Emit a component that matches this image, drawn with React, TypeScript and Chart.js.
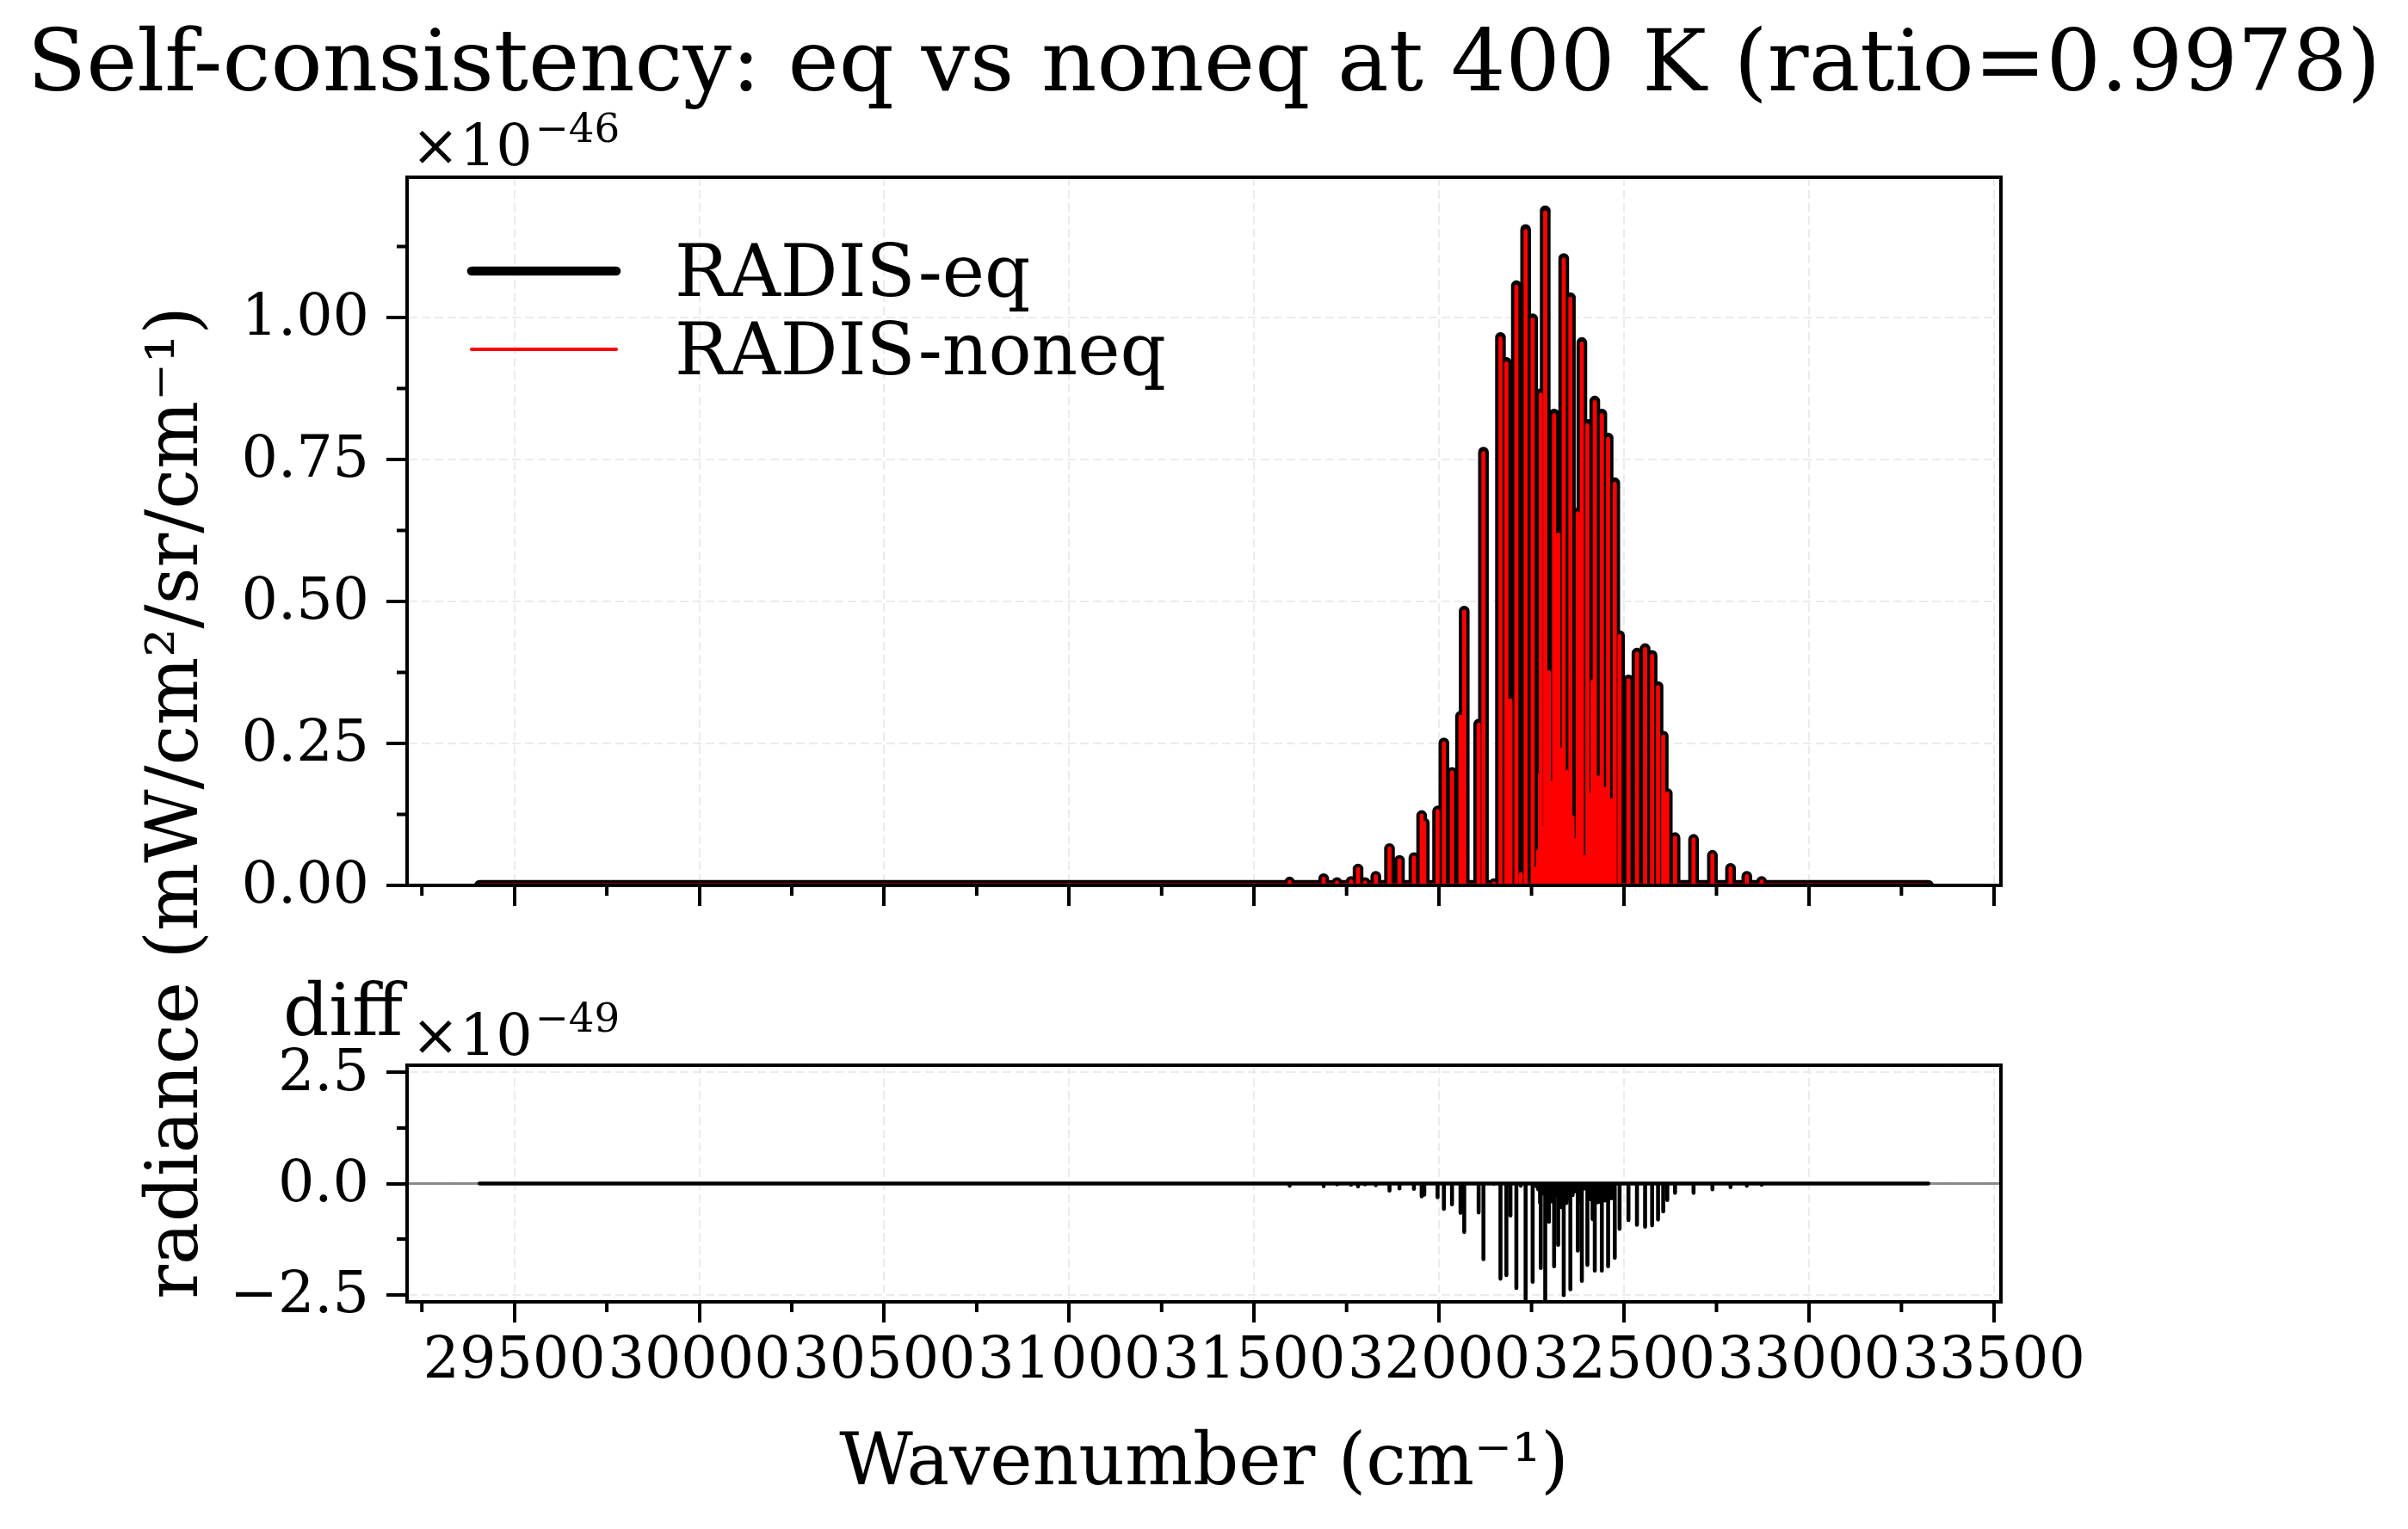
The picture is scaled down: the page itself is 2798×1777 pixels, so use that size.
import React, { useEffect, useRef } from "react";
import { Chart, registerables } from "chart.js";

Chart.register(...registerables);

const PAGE_W = 2798;
const PAGE_H = 1777;
const SERIF = '"DejaVu Serif", serif';

// Wavenumber axis (cm⁻¹)
const xAxisMin = 29210;
const xAxisMax = 33519;
const xMajorTicks = [29500, 30000, 30500, 31000, 31500, 32000, 32500, 33000, 33500];
const xMinorTicks = [29250, 29750, 30250, 30750, 31250, 31750, 32250, 32750, 33250];
const spectrumStart = 29406;
const spectrumEnd = 33323;

// Radiance panel (×1e-46 mW/cm²/sr/cm⁻¹)
const radianceMax = 1.247;
const radianceTicks = [0, 0.25, 0.5, 0.75, 1.0];
const radianceMinorTicks = [0.125, 0.375, 0.625, 0.875, 1.125];

// Difference panel (×1e-49)
const diffMin = -2.66;
const diffMax = 2.66;
const diffTicks = [-2.5, 0, 2.5];
const diffMinorTicks = [-1.25, 1.25];

// Line positions of the band (cm⁻¹)
const lineCenters = [
  31596, 31688, 31724, 31762, 31781, 31800, 31829, 31866, 31893, 31932,
  31953, 31960, 31996, 32013, 32035, 32058, 32068, 32107, 32120, 32148,
  32166, 32182, 32193, 32209, 32221, 32234, 32253, 32264, 32268, 32273,
  32275, 32281, 32287, 32292, 32297, 32304, 32311, 32317, 32322, 32330,
  32337, 32344, 32349, 32355, 32361, 32366, 32375, 32380, 32386, 32395,
  32401, 32409, 32415, 32421, 32430, 32440, 32448, 32457, 32466, 32475,
  32488, 32512, 32535, 32557, 32576, 32592, 32606, 32617, 32638, 32688,
  32739, 32788, 32832, 32872,
];

// Peak radiance, equilibrium run (×1e-46)
const eqRadiance = [
  0.006, 0.012, 0.005, 0.007, 0.029, 0.005, 0.016, 0.065, 0.044, 0.049,
  0.123, 0.110, 0.131, 0.251, 0.199, 0.298, 0.483, 0.284, 0.763, 0.003,
  0.965, 0.921, 0.327, 1.056, 0.020, 1.155, 0.998, 0.030, 0.060, 0.195,
  0.866, 0.100, 1.188, 0.140, 0.376, 0.180, 0.830, 0.120, 0.619, 0.240,
  1.104, 0.200, 0.150, 1.035, 0.120, 0.080, 0.656, 0.180, 0.956, 0.050,
  0.812, 0.160, 0.360, 0.853, 0.190, 0.830, 0.170, 0.788, 0.150, 0.709,
  0.440, 0.362, 0.409, 0.417, 0.405, 0.350, 0.263, 0.162, 0.084, 0.081,
  0.053, 0.030, 0.016, 0.007,
];

// Peak radiance, non-equilibrium run with Tvib = Trot (×1e-46)
const noneqRadiance = [
  0.006, 0.012, 0.005, 0.007, 0.029, 0.005, 0.016, 0.065, 0.044, 0.049,
  0.123, 0.110, 0.131, 0.250, 0.199, 0.297, 0.482, 0.283, 0.761, 0.003,
  0.963, 0.919, 0.326, 1.054, 0.020, 1.152, 0.996, 0.030, 0.060, 0.195,
  0.864, 0.100, 1.185, 0.140, 0.375, 0.180, 0.828, 0.120, 0.618, 0.239,
  1.102, 0.200, 0.150, 1.033, 0.120, 0.080, 0.655, 0.180, 0.954, 0.050,
  0.810, 0.160, 0.359, 0.851, 0.190, 0.828, 0.170, 0.786, 0.150, 0.707,
  0.439, 0.361, 0.408, 0.416, 0.404, 0.349, 0.262, 0.162, 0.084, 0.081,
  0.053, 0.030, 0.016, 0.007,
];

// noneq − eq (×1e-49)
const diffRadiance = [
  -0.05, -0.06, -0.02, -0.03, -0.065, -0.02, -0.04, -0.16, -0.11, -0.12,
  -0.29, -0.25, -0.31, -0.57, -0.47, -0.66, -1.09, -0.65, -1.70, -0.01,
  -2.14, -2.06, -0.72, -2.35, -0.05, -2.60, -2.21, -0.07, -0.13, -0.43,
  -1.90, -0.22, -2.66, -0.31, -0.86, -0.40, -1.86, -0.27, -1.38, -0.53,
  -2.51, -0.44, -0.33, -2.38, -0.26, -0.18, -1.51, -0.40, -2.19, -0.11,
  -1.83, -0.35, -0.80, -1.96, -0.42, -1.96, -0.38, -1.86, -0.33, -1.67,
  -1.02, -0.82, -0.93, -0.97, -0.94, -0.81, -0.63, -0.37, -0.21, -0.21,
  -0.13, -0.08, -0.05, -0.03,
];

type Pt = { x: number; y: number };

// Stick spectrum: baseline with one spike per line
function stickSpectrum(values: number[]): Pt[] {
  const order = lineCenters.map((_, i) => i).sort((a, b) => lineCenters[a] - lineCenters[b]);
  const pts: Pt[] = [{ x: spectrumStart, y: 0 }];
  for (const i of order) {
    const c = lineCenters[i];
    pts.push({ x: c, y: 0 }, { x: c, y: values[i] }, { x: c, y: 0 });
  }
  pts.push({ x: spectrumEnd, y: 0 });
  return pts;
}

const GRID_COLOR = "#ebebeb";
const tickFont = { family: SERIF, size: 66.7 };

function gridOpts() {
  return {
    color: GRID_COLOR,
    lineWidth: 2,
    drawTicks: true,
    tickLength: 24,
    tickWidth: 4,
    tickColor: "#000",
  };
}
function borderOpts() {
  return { display: true, color: "#000", width: 4, dash: [10, 5] };
}

function xScale(showLabels: boolean, height: number) {
  return {
    type: "linear" as const,
    min: xAxisMin,
    max: xAxisMax,
    afterBuildTicks: (s: any) => {
      s.ticks = xMajorTicks.map((v) => ({ value: v }));
    },
    afterFit: (s: any) => {
      s.height = height;
    },
    ticks: {
      display: showLabels,
      font: tickFont,
      color: "#000",
      padding: 7,
      maxRotation: 0,
      minRotation: 0,
      autoSkip: false,
      callback: (v: any) => String(v),
    },
    grid: gridOpts(),
    border: borderOpts(),
  };
}

function yScale(min: number, max: number, ticks: number[], fmt: (v: number) => string) {
  return {
    type: "linear" as const,
    min,
    max,
    afterBuildTicks: (s: any) => {
      s.ticks = ticks.map((v) => ({ value: v }));
    },
    afterFit: (s: any) => {
      s.width = 200;
    },
    ticks: {
      font: tickFont,
      color: "#000",
      padding: 20,
      labelOffset: 3,
      callback: (v: any) => fmt(Number(v)),
    },
    grid: gridOpts(),
    border: borderOpts(),
  };
}

function drawFrameAndMinor(chart: any, yMinor: number[]) {
  const { ctx, chartArea: a, scales } = chart;
  ctx.save();
  ctx.strokeStyle = "#000";
  ctx.lineWidth = 4;
  ctx.lineCap = "butt";
  ctx.beginPath();
  for (const v of xMinorTicks) {
    const px = scales.x.getPixelForValue(v);
    ctx.moveTo(px, a.bottom);
    ctx.lineTo(px, a.bottom + 12);
  }
  for (const v of yMinor) {
    const py = scales.y.getPixelForValue(v);
    ctx.moveTo(a.left, py);
    ctx.lineTo(a.left - 12, py);
  }
  ctx.stroke();
  ctx.strokeRect(a.left, a.top, a.right - a.left, a.bottom - a.top);
  ctx.restore();
}

function drawOffset(ctx: CanvasRenderingContext2D, x: number, baseline: number, exp: string) {
  ctx.save();
  ctx.fillStyle = "#000";
  ctx.textAlign = "left";
  ctx.textBaseline = "alphabetic";
  ctx.font = `66.7px ${SERIF}`;
  ctx.fillText("×10", x, baseline);
  const w = ctx.measureText("×10").width;
  ctx.font = `46.7px ${SERIF}`;
  ctx.fillText(exp, x + w + 3, baseline - 27);
  ctx.restore();
}

// Legend handle widths
const legendWidths = [10.6, 4.2];

const topDecor = {
  id: "topDecor",
  afterDraw(chart: any) {
    const { ctx, chartArea: a } = chart;
    drawFrameAndMinor(chart, radianceMinorTicks);
    ctx.save();
    ctx.fillStyle = "#000";
    // figure title
    ctx.font = `100px ${SERIF}`;
    ctx.textAlign = "center";
    ctx.textBaseline = "alphabetic";
    ctx.fillText("Self-consistency: eq vs noneq at 400 K (ratio=0.9978)", PAGE_W / 2, 105);
    // shared y label
    ctx.save();
    ctx.translate(229, 933);
    ctx.rotate(-Math.PI / 2);
    ctx.font = `83.3px ${SERIF}`;
    ctx.textAlign = "center";
    ctx.fillText("radiance (mW/cm²/sr/cm⁻¹)", 0, 0);
    ctx.restore();
    // legend
    const ds = chart.data.datasets;
    const rows = [315, 406];
    ds.forEach((d: any, i: number) => {
      ctx.save();
      ctx.strokeStyle = d.borderColor;
      ctx.lineWidth = legendWidths[i];
      ctx.lineCap = "round";
      ctx.beginPath();
      ctx.moveTo(a.left + 75, rows[i]);
      ctx.lineTo(a.left + 243, rows[i]);
      ctx.stroke();
      ctx.restore();
      ctx.font = `83.3px ${SERIF}`;
      ctx.textAlign = "left";
      ctx.fillText(d.label, a.left + 311, rows[i] + 29);
    });
    ctx.restore();
    drawOffset(ctx, a.left + 5, 192, "−46");
  },
};

const bottomDecor = {
  id: "bottomDecor",
  afterDraw(chart: any) {
    const { ctx, chartArea: a } = chart;
    drawFrameAndMinor(chart, diffMinorTicks);
    ctx.save();
    ctx.fillStyle = "#000";
    ctx.font = `83.3px ${SERIF}`;
    ctx.textBaseline = "alphabetic";
    ctx.textAlign = "left";
    ctx.fillText("diff", 329, 1203);
    ctx.textAlign = "center";
    ctx.fillText("Wavenumber (cm⁻¹)", (a.left + a.right) / 2, 1725);
    ctx.restore();
    drawOffset(ctx, a.left + 5, 1226, "−49");
  },
};

const lineStyle = {
  pointRadius: 0,
  pointHoverRadius: 0,
  fill: false,
  tension: 0,
  borderJoinStyle: "round" as const,
  borderCapStyle: "round" as const,
  clip: 0,
};

const commonOpts = {
  responsive: false,
  animation: false as const,
  devicePixelRatio: 1,
  events: [] as any[],
  plugins: {
    legend: { display: false },
    title: { display: false },
    tooltip: { enabled: false },
  },
};

export default function App() {
  const topRef = useRef<HTMLCanvasElement>(null);
  const bottomRef = useRef<HTMLCanvasElement>(null);

  useEffect(() => {
    document.body.style.margin = "0";
    const top = new Chart(topRef.current!, {
      type: "line",
      data: {
        datasets: [
          { label: "RADIS-eq", data: stickSpectrum(eqRadiance), borderColor: "#000000", borderWidth: 12.4, order: 2, ...lineStyle },
          { label: "RADIS-noneq", data: stickSpectrum(noneqRadiance), borderColor: "#ff0000", borderWidth: 4.8, order: 1, ...lineStyle },
        ],
      },
      options: {
        ...commonOpts,
        layout: { padding: { left: 273, top: 206, right: PAGE_W - 2325, bottom: PAGE_H - 1029 - 100 } },
        scales: {
          x: xScale(false, 100),
          y: yScale(0, radianceMax, radianceTicks, (v) => v.toFixed(2)),
        },
      } as any,
      plugins: [topDecor],
    });
    const bottom = new Chart(bottomRef.current!, {
      type: "line",
      data: {
        datasets: [
          { label: "zero", data: [{ x: xAxisMin, y: 0 }, { x: xAxisMax, y: 0 }], borderColor: "rgba(128,128,128,0.9)", borderWidth: 3, order: 2, ...lineStyle },
          { label: "diff", data: stickSpectrum(diffRadiance), borderColor: "#000000", borderWidth: 4.6, order: 1, ...lineStyle },
        ],
      },
      options: {
        ...commonOpts,
        layout: { padding: { left: 273, top: 1238, right: PAGE_W - 2325, bottom: PAGE_H - 1513 - 150 } },
        scales: {
          x: xScale(true, 150),
          y: yScale(diffMin, diffMax, diffTicks, (v) =>
            v === 0 ? "0.0" : (v < 0 ? "−" : "") + Math.abs(v).toFixed(1)
          ),
        },
      } as any,
      plugins: [bottomDecor],
    });
    return () => {
      top.destroy();
      bottom.destroy();
    };
  }, []);

  const canvasStyle: React.CSSProperties = { position: "absolute", left: 0, top: 0, width: PAGE_W, height: PAGE_H };
  return (
    <div style={{ position: "absolute", left: 0, top: 0, width: PAGE_W, height: PAGE_H, background: "#ffffff", overflow: "hidden" }}>
      <canvas ref={topRef} width={PAGE_W} height={PAGE_H} style={canvasStyle} />
      <canvas ref={bottomRef} width={PAGE_W} height={PAGE_H} style={canvasStyle} />
    </div>
  );
}
